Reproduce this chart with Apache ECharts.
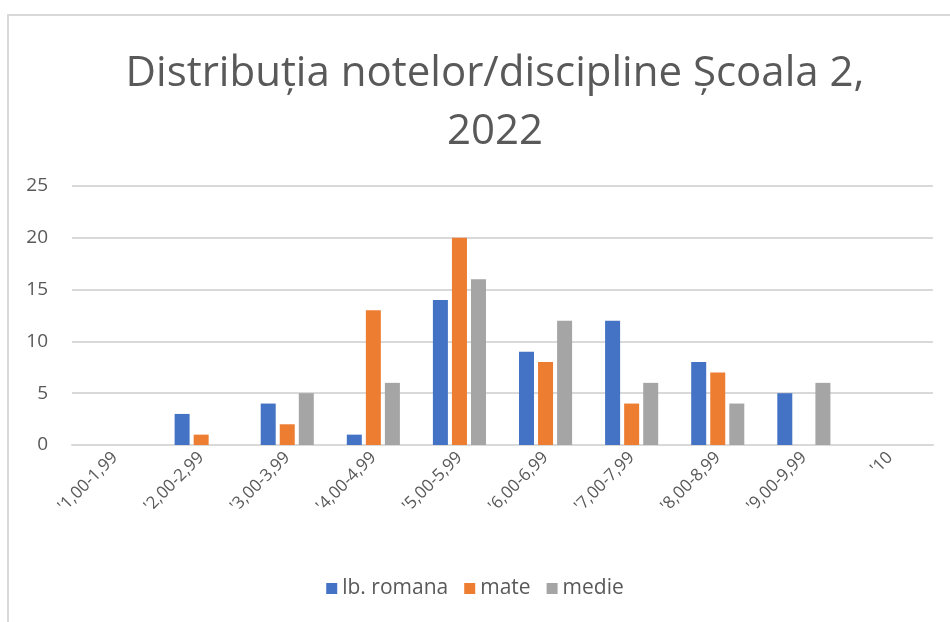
<!DOCTYPE html>
<html>
<head>
<meta charset="utf-8">
<script src="https://cdn.jsdelivr.net/npm/echarts@6/dist/echarts.min.js"></script>
<style>
  html, body { margin: 0; padding: 0; background: #fff; }
  #chart { width: 950px; height: 622px; }
</style>
</head>
<body>
<div id="chart"></div>
<script>
var categories = ["'1,00-1,99", "'2,00-2,99", "'3,00-3,99", "'4,00-4,99", "'5,00-5,99",
                  "'6,00-6,99", "'7,00-7,99", "'8,00-8,99", "'9,00-9,99", "'10"];
var romana = [0, 3, 4, 1, 14, 9, 12, 8, 5, 0];
var mate = [0, 1, 2, 13, 20, 8, 4, 7, 0, 0];
var medie = [0, 0, 5, 6, 16, 12, 6, 4, 6, 0];
var yTicks = [0, 5, 10, 15, 20, 25];

var font = "'Open Sans', sans-serif";
var textColor = '#595959';

var chart = echarts.init(document.getElementById('chart'));

function barSeries(name, data, color) {
    return {
        name: name,
        type: 'bar',
        data: data,
        barWidth: 15,
        barGap: '27%',
        itemStyle: { color: color },
        emphasis: { disabled: true }
    };
}

chart.setOption({
    animation: false,
    textStyle: { fontFamily: font },
    graphic: [{
        type: 'rect',
        shape: { x: 8, y: 15, width: 1000, height: 700 },
        style: { fill: 'none', stroke: '#d9d9d9', lineWidth: 2 },
        silent: true
    }],
    title: {
        text: 'Distribuția notelor/discipline Școala 2,\n2022',
        left: 490,
        textAlign: 'center',
        top: 40,
        textStyle: {
            fontFamily: font,
            fontSize: 42,
            fontWeight: 'normal',
            color: textColor,
            lineHeight: 58
        }
    },
    legend: {
        bottom: 18,
        left: 'center',
        itemWidth: 11,
        itemHeight: 11,
        itemGap: 16,
        icon: 'rect',
        textStyle: { fontFamily: font, fontSize: 21, color: textColor },
        data: ['lb. romana', 'mate', 'medie']
    },
    grid: { left: 72, right: 17, top: 186, bottom: 177, outerBoundsMode: 'none' },
    xAxis: {
        type: 'category',
        data: categories,
        axisLine: { lineStyle: { color: '#d9d9d9', width: 2 } },
        axisTick: { show: false },
        axisLabel: {
            rotate: 45,
            interval: 0,
            margin: 10,
            fontFamily: font,
            fontSize: 17,
            color: textColor
        }
    },
    yAxis: {
        type: 'value',
        min: yTicks[0],
        max: yTicks[yTicks.length - 1],
        interval: 5,
        axisLine: { show: false },
        axisTick: { show: false },
        splitLine: { lineStyle: { color: '#d9d9d9', width: 2 } },
        axisLabel: {
            margin: 24,
            fontFamily: font,
            fontSize: 19,
            color: textColor
        }
    },
    series: [
        barSeries('lb. romana', romana, '#4472C4'),
        barSeries('mate', mate, '#ED7D31'),
        barSeries('medie', medie, '#A5A5A5')
    ]
});
</script>
</body>
</html>
